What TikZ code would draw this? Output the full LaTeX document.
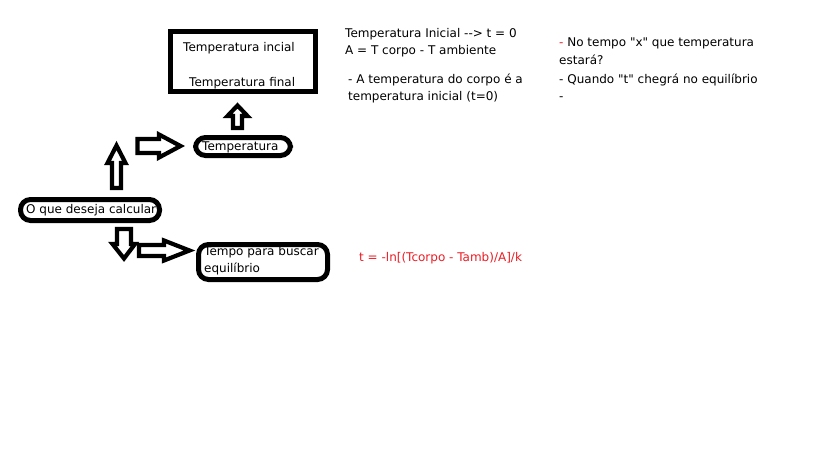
\documentclass[tikz,border=0pt]{standalone}
\usepackage{fontspec}
\defaultfontfeatures[\rmfamily]{}
\setmainfont{DejaVu Sans}
\definecolor{pred}{RGB}{237,28,36}
\begin{document}
\begin{tikzpicture}[x=1pt,y=-1pt,
 lbl/.style={anchor=base west, inner sep=0pt, font=\fontsize{12}{14}\selectfont},
 rbox/.style={draw, line width=5pt, rounded corners=10pt, inner sep=0pt},
 sbox/.style={draw, line width=5pt, inner sep=0pt},
 barrow/.style={draw, line width=4.2pt, fill=white, line join=miter}]
\useasboundingbox[fill=white] (0,0) rectangle (819,460);

% boxes
\node[sbox, minimum width=145pt, minimum height=60pt] (topbox) at (243,61.5) {};
\node[rbox, minimum width=95pt, minimum height=18pt] (tempbox) at (243,146.5) {};
\node[rbox, minimum width=139pt, minimum height=21pt] (calcbox) at (90,210) {};
\node[rbox, minimum width=129pt, minimum height=35pt] (tempobox) at (263,262) {};

% box texts
\node[lbl] (ti) at (183,52) {Temperatura incial};
\node[lbl] (tf) at (189,86) {Temperatura final};
\node[lbl] (tt) at (202,150) {Temperatura};
\node[lbl] (tc) at (26,213) {O que deseja calcular};
\node[lbl] (tp1) at (204,255) {Tempo para buscar};
\node[lbl] (tp2) at (204,272) {equilíbrio};

% block arrows
\draw[barrow] (233,128) -- (233,116) -- (227.5,116) -- (237.5,105.5) -- (247.5,116) -- (242,116) -- (242,128) -- cycle;
\draw[barrow] (137.5,139) -- (159,139) -- (159,134.5) -- (180.5,146) -- (159,157.5) -- (159,153) -- (137.5,153) -- cycle;
\draw[barrow] (112,188) -- (112,163) -- (107.5,163) -- (116.5,145.5) -- (125.5,163) -- (121,163) -- (121,188) -- cycle;
\draw[barrow] (117,229) -- (131,229) -- (131,244) -- (135,244) -- (124,258.5) -- (112.5,244) -- (117,244) -- cycle;
\draw[barrow] (139,245) -- (164,245) -- (164,240.5) -- (189.5,250.5) -- (164,260.5) -- (164,256) -- (139,256) -- cycle;

% notes
\node[lbl] (n1) at (345,38) {Temperatura Inicial {-}{-}> t = 0};
\node[lbl] (n2) at (345,55) {A = T corpo - T ambiente};
\node[lbl] (n3) at (348,83) {- A temperatura do corpo é a};
\node[lbl] (n4) at (348,100) {temperatura inicial (t=0)};
\node[lbl] (r1) at (559,47) {{\color{pred}-} No tempo "x" que temperatura};
\node[lbl] (r2) at (559,64) {estará?};
\node[lbl] (r3) at (559,83) {- Quando "t" chegrá no equilíbrio};
\node[lbl] (r4) at (559,100) {-};
\node[lbl, text=pred] (form) at (359,261) {t = -ln[(Tcorpo - Tamb)/A]/k};
\end{tikzpicture}
\end{document}
